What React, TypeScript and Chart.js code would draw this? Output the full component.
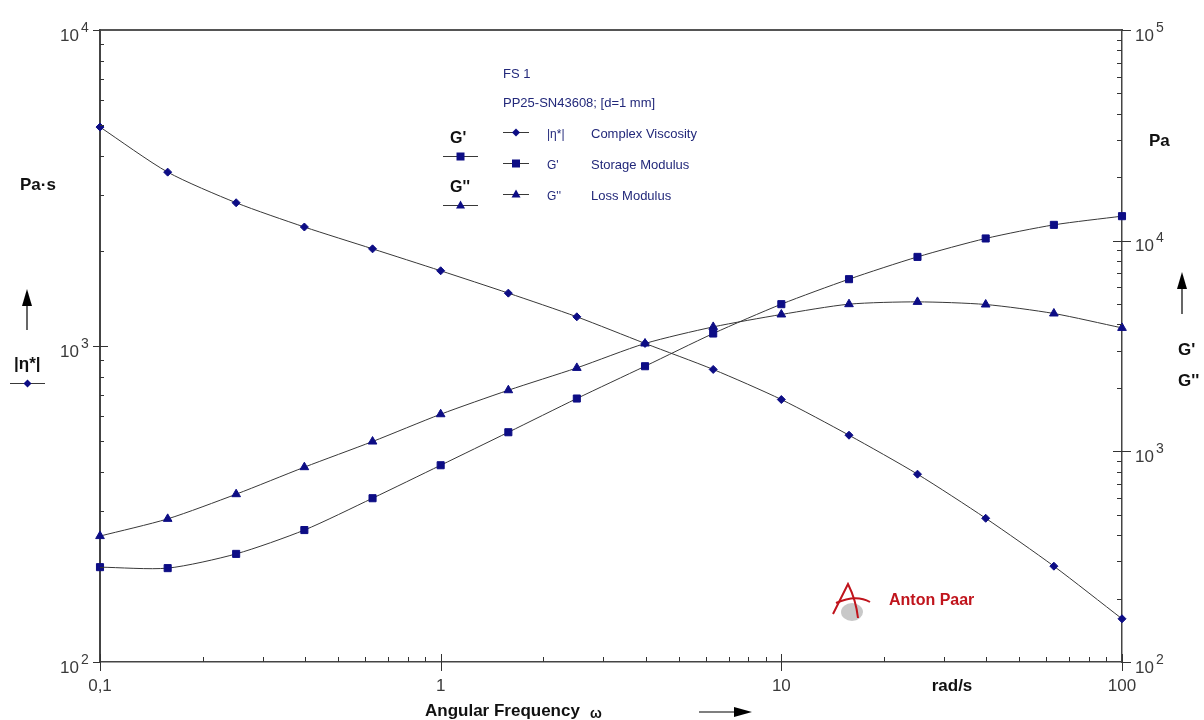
import React, { useEffect, useRef } from "react";
import { Chart, registerables } from "chart.js";

Chart.register(...registerables);

// ---- data ----
const angularFrequency = [0.1, 0.158, 0.251, 0.398, 0.631, 1, 1.58, 2.51, 3.98, 6.31, 10, 15.8, 25.1, 39.8, 63.1, 100];
const complexViscosity = [4930, 3550, 2840, 2380, 2030, 1730, 1470, 1237, 1019, 843, 677, 522, 393, 285, 201, 137];
const storageModulus = [282, 279, 326, 423, 599, 859, 1232, 1781, 2535, 3625, 4995, 6565, 8375, 10243, 11885, 13070];
const lossModulus = [396, 478, 626, 841, 1113, 1500, 1950, 2489, 3250, 3896, 4463, 4995, 5122, 4977, 4511, 3854];

const xMajorTicks = [0.1, 1, 10, 100];
const xTickLabels = ["0,1", "1", "10", "100"];
const leftExponents = [2, 3, 4];
const rightExponents = [2, 3, 4, 5];

const seriesSymbols = ["|\u03B7*|", "G'", "G''"];
const seriesNames = ["Complex Viscosity", "Storage Modulus", "Loss Modulus"];
const seriesStyles = ["rectRot", "rect", "triangle"];

const W = 1204;
const H = 720;
const NAVY = "#0d0d85";
const LINE = "#383838";
const FONT = '"Liberation Sans", Arial, sans-serif';

function minorValues(minExp: number, maxExp: number) {
  const out: number[] = [];
  for (let e = minExp; e < maxExp; e++) for (let m = 2; m <= 9; m++) out.push(m * Math.pow(10, e));
  return out;
}

function drawMarker(ctx: CanvasRenderingContext2D, style: string, x: number, y: number) {
  ctx.save();
  ctx.fillStyle = NAVY;
  ctx.beginPath();
  if (style === "rect") {
    ctx.rect(x - 4, y - 4, 8, 8);
  } else if (style === "rectRot") {
    ctx.moveTo(x, y - 4);
    ctx.lineTo(x + 4, y);
    ctx.lineTo(x, y + 4);
    ctx.lineTo(x - 4, y);
    ctx.closePath();
  } else {
    ctx.moveTo(x, y - 5);
    ctx.lineTo(x + 4.5, y + 3);
    ctx.lineTo(x - 4.5, y + 3);
    ctx.closePath();
  }
  ctx.fill();
  ctx.restore();
}

function legendLine(ctx: CanvasRenderingContext2D, x1: number, x2: number, y: number, style: string) {
  ctx.save();
  ctx.strokeStyle = LINE;
  ctx.lineWidth = 1;
  ctx.beginPath();
  ctx.moveTo(x1, y + 0.5);
  ctx.lineTo(x2, y + 0.5);
  ctx.stroke();
  ctx.restore();
  drawMarker(ctx, style, (x1 + x2) / 2, y + 0.5);
}

function upArrow(ctx: CanvasRenderingContext2D, x: number, yTop: number, yBottom: number) {
  ctx.save();
  ctx.strokeStyle = "#000";
  ctx.fillStyle = "#000";
  ctx.lineWidth = 1.2;
  ctx.beginPath();
  ctx.moveTo(x, yBottom);
  ctx.lineTo(x, yTop + 10);
  ctx.stroke();
  ctx.beginPath();
  ctx.moveTo(x, yTop);
  ctx.lineTo(x + 5, yTop + 17);
  ctx.lineTo(x - 5, yTop + 17);
  ctx.closePath();
  ctx.fill();
  ctx.restore();
}

const decorPlugin = {
  id: "rheoDecor",
  afterDraw(chart: any) {
    const ctx: CanvasRenderingContext2D = chart.ctx;
    const { left, right, top, bottom } = chart.chartArea;
    const xs = chart.scales.x;
    const yl = chart.scales.y;
    const yr = chart.scales.y1;
    ctx.save();

    // ---- tick marks ----
    ctx.strokeStyle = "#333";
    ctx.lineWidth = 1;
    const seg = (x1: number, y1: number, x2: number, y2: number) => {
      ctx.beginPath();
      ctx.moveTo(x1, y1);
      ctx.lineTo(x2, y2);
      ctx.stroke();
    };
    for (const v of minorValues(-1, 2)) {
      const px = Math.round(xs.getPixelForValue(v)) + 0.5;
      seg(px, bottom, px, bottom - 5);
    }
    for (const v of xMajorTicks) {
      const px = Math.round(xs.getPixelForValue(v)) + 0.5;
      seg(px, bottom - 8, px, bottom + 9);
    }
    for (const v of minorValues(2, 4)) {
      const py = Math.round(yl.getPixelForValue(v)) + 0.5;
      seg(left, py, left + 4, py);
    }
    for (const e of leftExponents) {
      const py = Math.round(yl.getPixelForValue(Math.pow(10, e))) + 0.5;
      seg(left - 7, py, left + (e === 3 ? 8 : 0), py);
    }
    for (const v of minorValues(2, 5)) {
      const py = Math.round(yr.getPixelForValue(v)) + 0.5;
      seg(right - 5, py, right, py);
    }
    for (const e of rightExponents) {
      const py = Math.round(yr.getPixelForValue(Math.pow(10, e))) + 0.5;
      seg(right - (e === 3 || e === 4 ? 9 : 0), py, right + 9, py);
    }

    // ---- tick labels ----
    ctx.fillStyle = "#3a3a3a";
    ctx.textBaseline = "alphabetic";
    ctx.font = `17px ${FONT}`;
    ctx.textAlign = "center";
    xMajorTicks.forEach((v, i) => {
      ctx.fillText(xTickLabels[i], xs.getPixelForValue(v), bottom + 29);
    });
    for (const e of leftExponents) {
      const py = yl.getPixelForValue(Math.pow(10, e));
      ctx.font = `17px ${FONT}`;
      ctx.textAlign = "right";
      ctx.fillText("10", left - 21, py + 10.5);
      ctx.font = `14px ${FONT}`;
      ctx.textAlign = "left";
      ctx.fillText(String(e), left - 19, py + 1.5);
    }
    for (const e of rightExponents) {
      const py = yr.getPixelForValue(Math.pow(10, e));
      ctx.font = `17px ${FONT}`;
      ctx.textAlign = "left";
      ctx.fillText("10", right + 13, py + 10.5);
      const w = ctx.measureText("10").width;
      ctx.font = `14px ${FONT}`;
      ctx.fillText(String(e), right + 15 + w, py + 1.5);
    }

    // ---- axis titles ----
    ctx.fillStyle = "#111";
    ctx.font = `bold 17px ${FONT}`;
    ctx.textAlign = "center";
    ctx.fillText("rad/s", 952, bottom + 29);
    ctx.textAlign = "left";
    ctx.fillText("Angular Frequency", 425, 716);
    ctx.font = `bold 14px ${FONT}`;
    ctx.fillText("\u03C9", 590, 718);
    // x arrow
    ctx.strokeStyle = "#000";
    ctx.fillStyle = "#000";
    ctx.lineWidth = 1.2;
    seg(699, 712, 738, 712);
    ctx.beginPath();
    ctx.moveTo(752, 712);
    ctx.lineTo(734, 707);
    ctx.lineTo(734, 717);
    ctx.closePath();
    ctx.fill();

    ctx.fillStyle = "#111";
    ctx.font = `bold 17px ${FONT}`;
    ctx.textAlign = "left";
    ctx.fillText("Pa\u00B7s", 20, 190);
    ctx.fillText("|\u03B7*|", 14, 369);
    legendLine(ctx, 10, 45, 383, "rectRot");
    upArrow(ctx, 27, 289, 330);

    ctx.fillStyle = "#111";
    ctx.font = `bold 17px ${FONT}`;
    ctx.fillText("Pa", 1149, 146);
    ctx.fillText("G'", 1178, 355);
    ctx.fillText("G''", 1178, 386);
    upArrow(ctx, 1182, 272, 314);

    // ---- inline legend ----
    ctx.fillStyle = "#111";
    ctx.font = `bold 16px ${FONT}`;
    ctx.fillText("G'", 450, 143);
    ctx.fillText("G''", 450, 192);
    legendLine(ctx, 443, 478, 156, "rect");
    legendLine(ctx, 443, 478, 205, "triangle");

    ctx.fillStyle = "#22287a";
    ctx.font = `13px ${FONT}`;
    ctx.fillText("FS 1", 503, 78);
    ctx.fillText("PP25-SN43608; [d=1 mm]", 503, 107);
    const rowY = [132, 163, 194];
    rowY.forEach((y, i) => {
      legendLine(ctx, 503, 529, y, seriesStyles[i]);
      ctx.fillStyle = "#22287a";
      ctx.font = `12px ${FONT}`;
      ctx.fillText(seriesSymbols[i], 547, y + 6);
      ctx.font = `13px ${FONT}`;
      ctx.fillText(seriesNames[i], 591, y + 6);
    });

    // ---- Anton Paar logo ----
    ctx.fillStyle = "#c8c8c8";
    ctx.beginPath();
    ctx.ellipse(852, 612, 11, 9, 0, 0, Math.PI * 2);
    ctx.fill();
    ctx.strokeStyle = "#c0141c";
    ctx.lineWidth = 2;
    ctx.beginPath();
    ctx.moveTo(833, 614);
    ctx.quadraticCurveTo(842, 596, 848, 584);
    ctx.quadraticCurveTo(856, 600, 858, 618);
    ctx.stroke();
    ctx.beginPath();
    ctx.moveTo(836, 603);
    ctx.quadraticCurveTo(856, 594, 870, 602);
    ctx.stroke();
    ctx.fillStyle = "#c0141c";
    ctx.font = `bold 16px ${FONT}`;
    ctx.fillText("Anton Paar", 889, 605);

    ctx.restore();
  },
};

export default function App() {
  const canvasRef = useRef<HTMLCanvasElement | null>(null);

  useEffect(() => {
    const canvas = canvasRef.current;
    if (!canvas) return;
    const common = {
      borderColor: LINE,
      borderWidth: 1,
      pointBackgroundColor: NAVY,
      pointBorderColor: NAVY,
      pointBorderWidth: 1,
      tension: 0.25,
      clip: false as any,
      fill: false,
    };
    const chart = new Chart(canvas, {
      type: "line",
      data: {
        labels: angularFrequency,
        datasets: [
          {
            ...common,
            label: seriesNames[0],
            data: angularFrequency.map((x, i) => ({ x, y: complexViscosity[i] })),
            yAxisID: "y",
            pointStyle: "rectRot",
            pointRadius: 4,
          },
          {
            ...common,
            label: seriesNames[1],
            data: angularFrequency.map((x, i) => ({ x, y: storageModulus[i] })),
            yAxisID: "y1",
            pointStyle: "rect",
            pointRadius: 5,
          },
          {
            ...common,
            label: seriesNames[2],
            data: angularFrequency.map((x, i) => ({ x, y: lossModulus[i] })),
            yAxisID: "y1",
            pointStyle: "triangle",
            pointRadius: 5,
          },
        ],
      },
      options: {
        animation: false,
        responsive: false,
        devicePixelRatio: 1,
        layout: { padding: { left: 100, right: 82, top: 30, bottom: 58 } },
        plugins: { legend: { display: false }, tooltip: { enabled: false }, title: { display: false } },
        scales: {
          x: {
            type: "logarithmic",
            position: "bottom",
            min: 0.1,
            max: 100,
            ticks: { display: false },
            grid: { display: false, drawTicks: false, tickLength: 0 },
            border: { display: true, color: "#444", width: 1.5 },
          },
          xTop: {
            type: "logarithmic",
            position: "top",
            min: 0.1,
            max: 100,
            ticks: { display: false },
            grid: { display: false, drawTicks: false, tickLength: 0 },
            border: { display: true, color: "#555", width: 2 },
          },
          y: {
            type: "logarithmic",
            position: "left",
            min: 100,
            max: 10000,
            ticks: { display: false },
            grid: { display: false, drawTicks: false, tickLength: 0 },
            border: { display: true, color: "#444", width: 2 },
          },
          y1: {
            type: "logarithmic",
            position: "right",
            min: 100,
            max: 100000,
            ticks: { display: false },
            grid: { display: false, drawTicks: false, tickLength: 0 },
            border: { display: true, color: "#444", width: 1.5 },
          },
        },
      } as any,
      plugins: [decorPlugin as any],
    });
    return () => chart.destroy();
  }, []);

  return (
    <div style={{ position: "fixed", left: 0, top: 0, width: W, height: H, background: "#fff" }}>
      <canvas ref={canvasRef} width={W} height={H} style={{ display: "block", width: W, height: H }} />
    </div>
  );
}
